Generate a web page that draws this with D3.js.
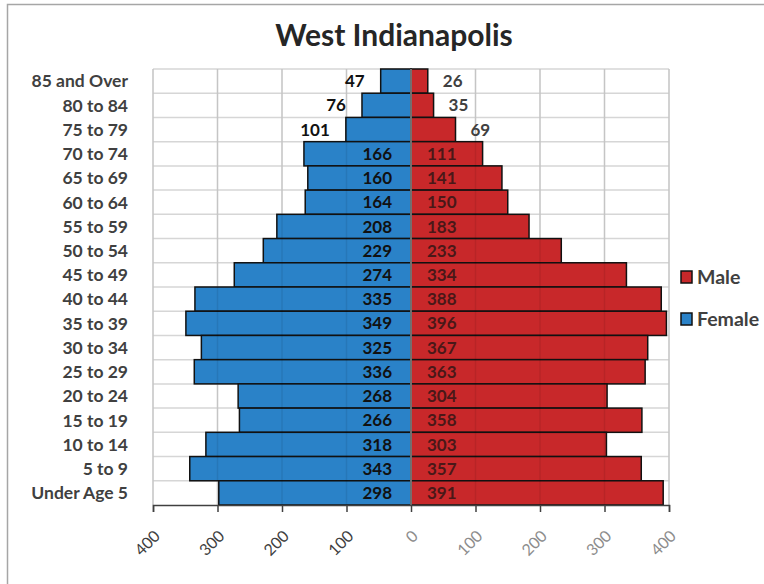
<!DOCTYPE html>
<html>
<head>
<meta charset="utf-8">
<script src="https://cdn.jsdelivr.net/npm/d3@7"></script>
<style>
  body { margin: 0; background: #fff; }
  text { font-family: Lato, "Open Sans", sans-serif; }
</style>
</head>
<body>
<svg id="chart"></svg>
<script>
"use strict";

const categories = ["85 and Over", "80 to 84", "75 to 79", "70 to 74", "65 to 69", "60 to 64",
  "55 to 59", "50 to 54", "45 to 49", "40 to 44", "35 to 39", "30 to 34", "25 to 29",
  "20 to 24", "15 to 19", "10 to 14", "5 to 9", "Under Age 5"];
const female = [47, 76, 101, 166, 160, 164, 208, 229, 274, 335, 349, 325, 336, 268, 266, 318, 343, 298];
const male = [26, 35, 69, 111, 141, 150, 183, 233, 334, 388, 396, 367, 363, 304, 358, 303, 357, 391];
const ticks = [-400, -300, -200, -100, 0, 100, 200, 300, 400];
const seriesNames = ["Male", "Female"];

const W = 764, H = 584;
const blue = "#2a82c8", red = "#c8282a";

const chart = d3.select('#chart')
  .attr('width', W)
  .attr('height', H);

const x = d3.scaleLinear()
  .domain([-400, 400])
  .range([153, 669]);

const y = d3.scaleBand()
  .domain(categories)
  .range([69, 505])
  .padding(0);

// outer chart border (runs off the right/bottom edge)
chart.append('rect')
  .attr('x', 7.5).attr('y', 4.5)
  .attr('width', 900).attr('height', 900)
  .attr('fill', 'none')
  .attr('stroke', '#a6a6a6')
  .attr('stroke-width', 1.5);

chart.append('text')
  .attr('x', 394).attr('y', 46)
  .attr('text-anchor', 'middle')
  .attr('font-size', 30)
  .attr('font-weight', 'bold')
  .attr('fill', '#262626')
  .text('West Indianapolis');

// grid
const grid = chart.append('g').attr('stroke', '#d6d6d6').attr('stroke-width', 1.5);
grid.selectAll('.vgrid').data(ticks).enter()
  .append('line')
  .attr('x1', d => x(d)).attr('x2', d => x(d))
  .attr('y1', y.range()[0]).attr('y2', y.range()[1]);
grid.selectAll('.hgrid').data(categories).enter()
  .append('line')
  .attr('x1', x(-400)).attr('x2', x(400))
  .attr('y1', d => y(d)).attr('y2', d => y(d));

// bars
const rows = categories.map((c, i) => ({ cat: c, f: female[i], m: male[i] }));

chart.selectAll('.fbar').data(rows).enter()
  .append('rect')
  .attr('x', d => x(-d.f))
  .attr('y', d => y(d.cat))
  .attr('width', d => x(0) - x(-d.f))
  .attr('height', y.bandwidth())
  .attr('fill', blue)
  .attr('stroke', '#111')
  .attr('stroke-width', 1.5);

chart.selectAll('.mbar').data(rows).enter()
  .append('rect')
  .attr('x', x(0))
  .attr('y', d => y(d.cat))
  .attr('width', d => x(d.m) - x(0))
  .attr('height', y.bandwidth())
  .attr('fill', red)
  .attr('stroke', '#111')
  .attr('stroke-width', 1.5);

// gridlines show faintly through bars
chart.append('g').attr('stroke', '#000').attr('stroke-opacity', 0.08).attr('stroke-width', 1.5)
  .selectAll('line').data(ticks.filter(d => d !== 0)).enter()
  .append('line')
  .attr('x1', d => x(d)).attr('x2', d => x(d))
  .attr('y1', y.range()[0]).attr('y2', y.range()[1]);

// center (category) axis
chart.append('line')
  .attr('x1', x(0)).attr('x2', x(0))
  .attr('y1', y.range()[0]).attr('y2', y.range()[1])
  .attr('stroke', '#8c8c8c')
  .attr('stroke-width', 1.5);

// data labels
const lblSize = 17;
chart.selectAll('.flbl').data(rows).enter()
  .append('text')
  .attr('x', d => d.f < 105 ? x(-d.f) - 16 : x(0) - 19)
  .attr('y', d => y(d.cat) + y.bandwidth() / 2)
  .attr('dy', '0.36em')
  .attr('text-anchor', 'end')
  .attr('font-size', lblSize)
  .attr('font-weight', 'bold')
  .attr('fill', '#111')
  .text(d => d.f);

chart.selectAll('.mlbl').data(rows).enter()
  .append('text')
  .attr('x', d => d.m < 105 ? x(d.m) + 15 : x(0) + 16)
  .attr('y', d => y(d.cat) + y.bandwidth() / 2)
  .attr('dy', '0.36em')
  .attr('font-size', lblSize)
  .attr('font-weight', 'bold')
  .attr('fill', d => d.m < 105 ? '#404040' : '#4a1818')
  .text(d => d.m);

// category labels
chart.selectAll('.cat').data(categories).enter()
  .append('text')
  .attr('x', 128)
  .attr('y', d => y(d) + y.bandwidth() / 2)
  .attr('dy', '0.36em')
  .attr('text-anchor', 'end')
  .attr('font-size', 17.5)
  .attr('font-weight', 'bold')
  .attr('fill', '#404040')
  .text(d => d);

// bottom value axis
const xAxis = chart.append('g')
  .attr('transform', `translate(0,${y.range()[1]})`)
  .call(d3.axisBottom(x).tickValues(ticks).tickSize(7).tickFormat(''));
xAxis.select('.domain').attr('stroke', '#404040').attr('stroke-width', 1.5);
xAxis.selectAll('.tick line').attr('stroke', '#404040').attr('stroke-width', 1.5);

chart.selectAll('.tlbl').data(ticks).enter()
  .append('text')
  .attr('transform', d => `translate(${x(d) + 4},${533}) rotate(-45)`)
  .attr('text-anchor', 'end')
  .attr('dy', '0.36em')
  .attr('font-size', 16)
  .attr('fill', d => d < 0 ? '#404040' : '#8c8c8c')
  .text(d => Math.abs(d));

// legend
const legend = chart.selectAll('.leg').data(seriesNames).enter()
  .append('g')
  .attr('transform', (d, i) => `translate(681,${271 + i * 42})`);
legend.append('rect')
  .attr('width', 11).attr('height', 12)
  .attr('fill', d => d === 'Male' ? red : blue)
  .attr('stroke', '#111')
  .attr('stroke-width', 1.5);
legend.append('text')
  .attr('x', 16).attr('y', 6)
  .attr('dy', '0.36em')
  .attr('font-size', 19.5)
  .attr('font-weight', 'bold')
  .attr('fill', '#404040')
  .text(d => d);
</script>
</body>
</html>
